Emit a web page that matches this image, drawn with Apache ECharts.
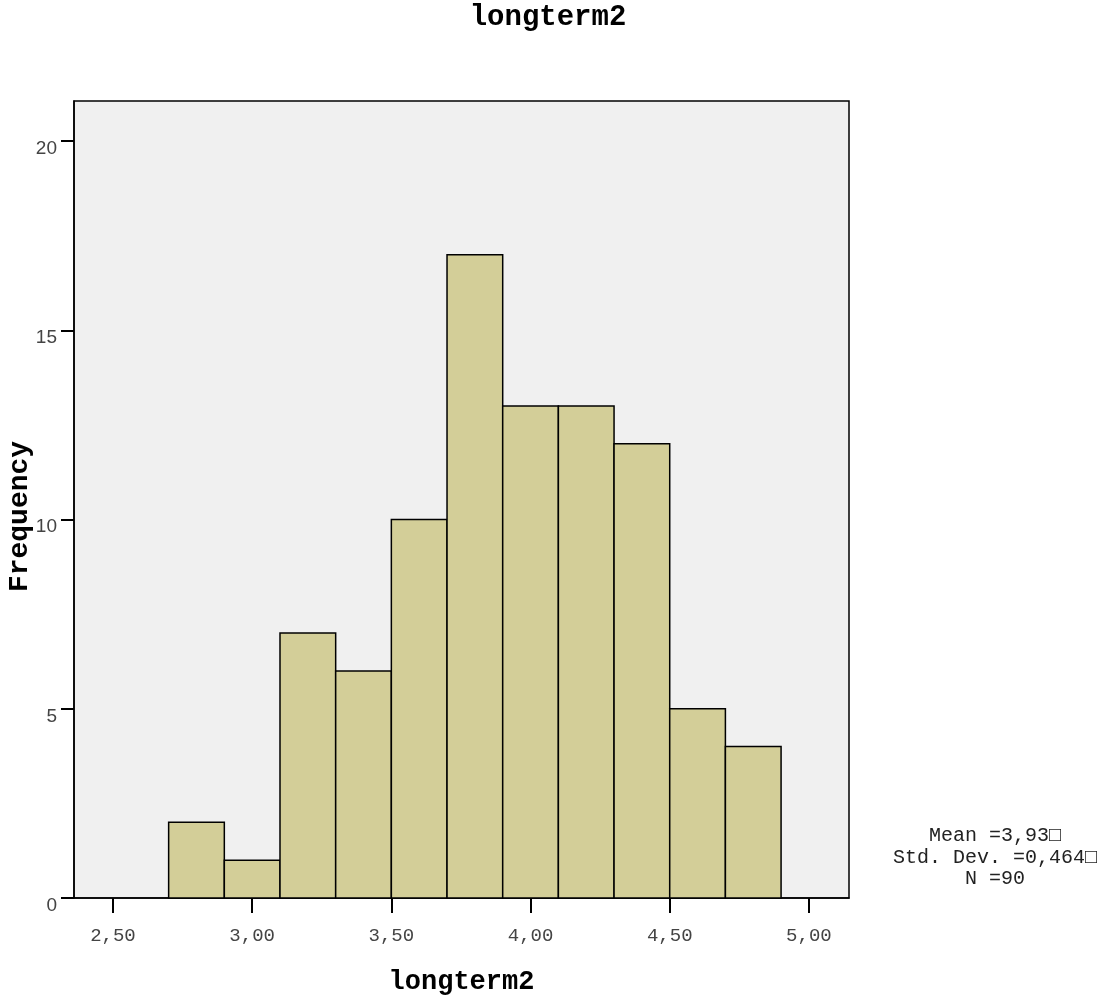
<!DOCTYPE html>
<html>
<head>
<meta charset="utf-8">
<script src="https://cdn.jsdelivr.net/npm/echarts@6/dist/echarts.min.js"></script>
<style>html,body{margin:0;padding:0;background:#fff}#c{width:1100px;height:996px}</style>
</head>
<body>
<div id="c"></div>
<script>
const binStarts = [2.7, 2.9, 3.1, 3.3, 3.5, 3.7, 3.9, 4.1, 4.3, 4.5, 4.7];
const binWidth = 0.2;
const counts = [2, 1, 7, 6, 10, 17, 13, 13, 12, 5, 4];
const xTicks = [2.5, 3.0, 3.5, 4.0, 4.5, 5.0];
const yTicks = [0, 5, 10, 15, 20];
const statsLines = ['Mean =3,93\u25A1', 'Std. Dev. =0,464\u25A1', 'N =90'];

const data = binStarts.map((s, i) => [s, s + binWidth, counts[i]]);
const chart = echarts.init(document.getElementById('c'), null, {renderer: 'canvas'});
const mono = '"Liberation Mono", "DejaVu Sans Mono", monospace';
chart.setOption({
  animation: false,
  title: {
    text: 'longterm2', left: 548, textAlign: 'center', top: 3, padding: 0,
    textStyle: {fontFamily: mono, fontWeight: 'bold', fontSize: 29, color: '#000'}
  },
  grid: {
    left: 74, top: 101, width: 775, height: 797,
    containLabel: false, outerBoundsMode: 'none',
    show: true, backgroundColor: '#f0f0f0', borderColor: '#000', borderWidth: 1.5
  },
  xAxis: {
    type: 'value', min: 2.36, max: 5.144,
    name: 'longterm2', nameLocation: 'middle', nameGap: 71, nameMoveOverlap: false,
    nameTextStyle: {fontFamily: mono, fontWeight: 'bold', fontSize: 27, color: '#000'},
    splitLine: {show: false},
    axisLine: {show: true, lineStyle: {color: '#000', width: 1.5}},
    axisTick: {show: true, length: 15, customValues: xTicks, lineStyle: {color: '#000', width: 2}},
    axisLabel: {
      customValues: xTicks, margin: 28, fontFamily: mono, fontSize: 19, color: '#444',
      formatter: v => v.toFixed(2).replace('.', ',')
    }
  },
  yAxis: {
    type: 'value', min: 0, max: 21.06,
    name: 'Frequency', nameLocation: 'middle', nameGap: 40, nameRotate: 90, nameMoveOverlap: false,
    nameTextStyle: {fontFamily: mono, fontWeight: 'bold', fontSize: 28, color: '#000', padding: [0, 34, 0, 0]},
    splitLine: {show: false},
    axisLine: {show: true, lineStyle: {color: '#000', width: 1.5}},
    axisTick: {show: true, length: 13, customValues: yTicks, lineStyle: {color: '#000', width: 2}},
    axisLabel: {
      customValues: yTicks, margin: 17, verticalAlign: 'top', lineHeight: 15,
      fontFamily: '"Liberation Sans", Arial, sans-serif', fontSize: 19, color: '#444'
    }
  },
  series: [{
    type: 'custom',
    data: data,
    encode: {x: [0, 1], y: 2},
    renderItem: function (params, api) {
      const p0 = api.coord([api.value(0), 0]);
      const p1 = api.coord([api.value(1), api.value(2)]);
      return {
        type: 'rect',
        shape: {x: p0[0], y: p1[1], width: p1[0] - p0[0], height: p0[1] - p1[1]},
        style: {fill: '#d3ce98', stroke: '#000', lineWidth: 1.5}
      };
    }
  }],
  graphic: [{
    type: 'text', x: 995, y: 825,
    style: {
      text: statsLines.join('\n'), fontFamily: mono, fontSize: 20, lineHeight: 21.5,
      fill: '#222', textAlign: 'center', textVerticalAlign: 'top'
    }
  }]
});
</script>
</body>
</html>
